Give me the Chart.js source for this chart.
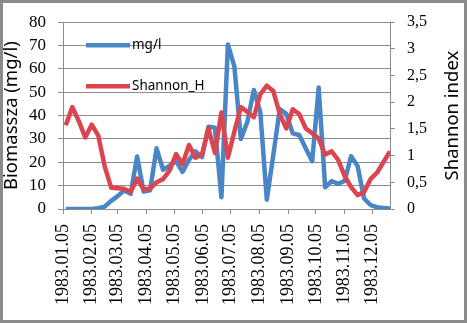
<!DOCTYPE html>
<html lang="hu">
<head>
<meta charset="UTF-8">
<title>Biomassza és Shannon index, 1983</title>
<script src="https://cdn.jsdelivr.net/npm/chart.js"></script>
<style>
  html, body { margin: 0; padding: 0; background: #fff; }
  #wrap { width: 467px; height: 323px; position: relative; }
</style>
</head>
<body>
<div id="wrap"><canvas id="chart"></canvas></div>
<script>
// weekly samples
const sampleDates = [
  '1983.01.08', '1983.01.15', '1983.01.22', '1983.01.29',
  '1983.02.05', '1983.02.12', '1983.02.19', '1983.02.26',
  '1983.03.05', '1983.03.12', '1983.03.19', '1983.03.26',
  '1983.04.02', '1983.04.09', '1983.04.16', '1983.04.23', '1983.04.30',
  '1983.05.07', '1983.05.14', '1983.05.21', '1983.05.28',
  '1983.06.04', '1983.06.11', '1983.06.18', '1983.06.25',
  '1983.07.02', '1983.07.09', '1983.07.16', '1983.07.23', '1983.07.30',
  '1983.08.06', '1983.08.13', '1983.08.20', '1983.08.27',
  '1983.09.03', '1983.09.10', '1983.09.17', '1983.09.24',
  '1983.10.01', '1983.10.08', '1983.10.15', '1983.10.22', '1983.10.29',
  '1983.11.05', '1983.11.12', '1983.11.19', '1983.11.26',
  '1983.12.03', '1983.12.10', '1983.12.17', '1983.12.24'
];

// biomass, mg/l
const biomass = [
  0, 0, 0, 0,
  0, 0.3, 1, 3.5,
  5.5, 8, 6.5, 22.5,
  7.5, 8, 26, 16.8, 18.5,
  20.5, 15.9, 21, 24.7,
  22.2, 35.2, 34.8, 5,
  70.5, 61, 30, 37.3, 51,
  41.5, 4, 23, 42.8,
  40.8, 32.4, 31.7, 26,
  20.5, 52, 9.3, 11.9, 10.8,
  12, 22.6, 18.4, 4.5,
  1.7, 0.8, 0.4, 0.2
];

// Shannon diversity index
const shannon = [
  1.57, 1.91, 1.65, 1.34,
  1.58, 1.38, 0.8, 0.40,
  0.39, 0.38, 0.32, 0.57,
  0.37, 0.38, 0.5, 0.56, 0.72,
  1.03, 0.84, 1.2, 0.96,
  1.02, 1.51, 1.05, 1.81,
  0.96, 1.45, 1.91, 1.82, 1.72,
  2.15, 2.31, 2.21, 1.78,
  1.51, 1.87, 1.78, 1.51,
  1.42, 1.32, 1.02, 1.08, 0.92,
  0.62, 0.41, 0.26, 0.32,
  0.56, 0.68, 0.88, 1.08
];

const dateTicks = [
  '1983.01.05', '1983.02.05', '1983.03.05', '1983.04.05',
  '1983.05.05', '1983.06.05', '1983.07.05', '1983.08.05',
  '1983.09.05', '1983.10.05', '1983.11.05', '1983.12.05'
];

const BLUE = '#4a85c6';
const RED = '#dc4450';
const GRID = '#8c8c8c';

function dayOfYear(s) {
  const [y, m, d] = s.split('.').map(Number);
  return (Date.UTC(y, m - 1, d) - Date.UTC(y, 0, 1)) / 864e5 + 1;
}

const tickLabelByDay = {};
dateTicks.forEach(s => { tickLabelByDay[dayOfYear(s)] = s; });

const xs = sampleDates.map(dayOfYear);
const bioPoints = xs.map((x, i) => ({ x, y: biomass[i] }));
const shPoints = xs.map((x, i) => ({ x, y: shannon[i] }));

const serif = 'Liberation Serif';
const sans = 'Noto Sans';

// white card with grey frame
const frame = {
  id: 'frame',
  beforeDraw(chart) {
    const { ctx, width, height } = chart;
    ctx.save();
    ctx.fillStyle = '#fff';
    ctx.fillRect(0, 0, width, height);
    ctx.strokeStyle = '#8a8a8a';
    ctx.lineWidth = 3;
    ctx.strokeRect(1.5, 1.5, width - 3, height - 3);
    ctx.restore();
  }
};

// legend sits inside the plot, top-left
const innerLegend = {
  id: 'innerLegend',
  afterDatasetsDraw(chart) {
    const { ctx, chartArea } = chart;
    const x0 = chartArea.left + 23;
    const rows = [chartArea.top + 23, chartArea.top + 64];
    ctx.save();
    ctx.font = '13.5px "' + sans + '"';
    ctx.textBaseline = 'middle';
    ctx.lineCap = 'butt';
    chart.data.datasets.forEach((ds, i) => {
      const y = rows[i];
      ctx.strokeStyle = ds.borderColor;
      ctx.lineWidth = 4.5;
      ctx.beginPath();
      ctx.moveTo(x0, y);
      ctx.lineTo(x0 + 44, y);
      ctx.stroke();
      ctx.fillStyle = '#000';
      ctx.fillText(ds.label, x0 + 46, y);
    });
    ctx.restore();
  }
};

// right axis title reads bottom-to-top like the left one
const rightTitle = {
  id: 'rightTitle',
  afterDraw(chart) {
    const { ctx, chartArea } = chart;
    const s = chart.scales.y1;
    ctx.save();
    ctx.translate(s.right - 14, (chartArea.top + chartArea.bottom) / 2);
    ctx.rotate(-Math.PI / 2);
    ctx.font = '18.5px "' + sans + '"';
    ctx.fillStyle = '#000';
    ctx.textAlign = 'center';
    ctx.textBaseline = 'middle';
    ctx.fillText('Shannon index', 0, 0);
    ctx.restore();
  }
};

new Chart(document.getElementById('chart'), {
  type: 'line',
  data: {
    datasets: [
      {
        label: 'mg/l',
        data: bioPoints,
        yAxisID: 'y',
        borderColor: BLUE,
        borderWidth: 4.5,
        pointRadius: 0,
        tension: 0,
        borderJoinStyle: 'round',
        order: 1
      },
      {
        label: 'Shannon_H',
        data: shPoints,
        yAxisID: 'y1',
        borderColor: RED,
        borderWidth: 4.5,
        pointRadius: 0,
        tension: 0,
        borderJoinStyle: 'round',
        order: 0
      }
    ]
  },
  options: {
    responsive: true,
    maintainAspectRatio: false,
    animation: false,
    events: [],
    layout: { padding: { top: 18, left: 0, right: 0, bottom: 0 } },
    plugins: { legend: { display: false }, tooltip: { enabled: false } },
    scales: {
      x: {
        type: 'linear',
        min: dayOfYear(dateTicks[0]),
        max: xs[xs.length - 1],
        afterBuildTicks(scale) {
          scale.ticks = dateTicks.map(s => ({ value: dayOfYear(s) }));
        },
        afterFit(scale) { scale.height = 114; },
        grid: { drawOnChartArea: false, drawTicks: true, tickLength: 5, color: GRID },
        border: { display: true, color: GRID },
        ticks: {
          autoSkip: false,
          minRotation: 90,
          maxRotation: 90,
          padding: 10,
          color: '#000',
          font: { family: serif, size: 18 },
          callback: v => tickLabelByDay[v] || ''
        }
      },
      y: {
        position: 'left',
        min: 0,
        max: 80,
        afterFit(scale) { scale.width = 63; },
        grid: { color: GRID, lineWidth: 1, tickLength: 5 },
        border: { display: true, color: GRID },
        ticks: {
          stepSize: 10,
          autoSkip: false,
          padding: 12,
          color: '#000',
          font: { family: serif, size: 17 }
        },
        title: {
          display: true,
          text: 'Biomassza (mg/l)',
          color: '#000',
          font: { family: sans, size: 18.5 },
          padding: { top: 1, bottom: 0 }
        }
      },
      y1: {
        position: 'right',
        min: 0,
        max: 3.5,
        afterFit(scale) { scale.width = 77; },
        grid: { drawOnChartArea: false, color: GRID, tickLength: 5 },
        border: { display: true, color: GRID },
        ticks: {
          stepSize: 0.5,
          autoSkip: false,
          padding: 12,
          color: '#000',
          font: { family: serif, size: 16 },
          callback: v => String(v).replace('.', ',')
        }
      }
    }
  },
  plugins: [frame, innerLegend, rightTitle]
});
</script>
</body>
</html>
